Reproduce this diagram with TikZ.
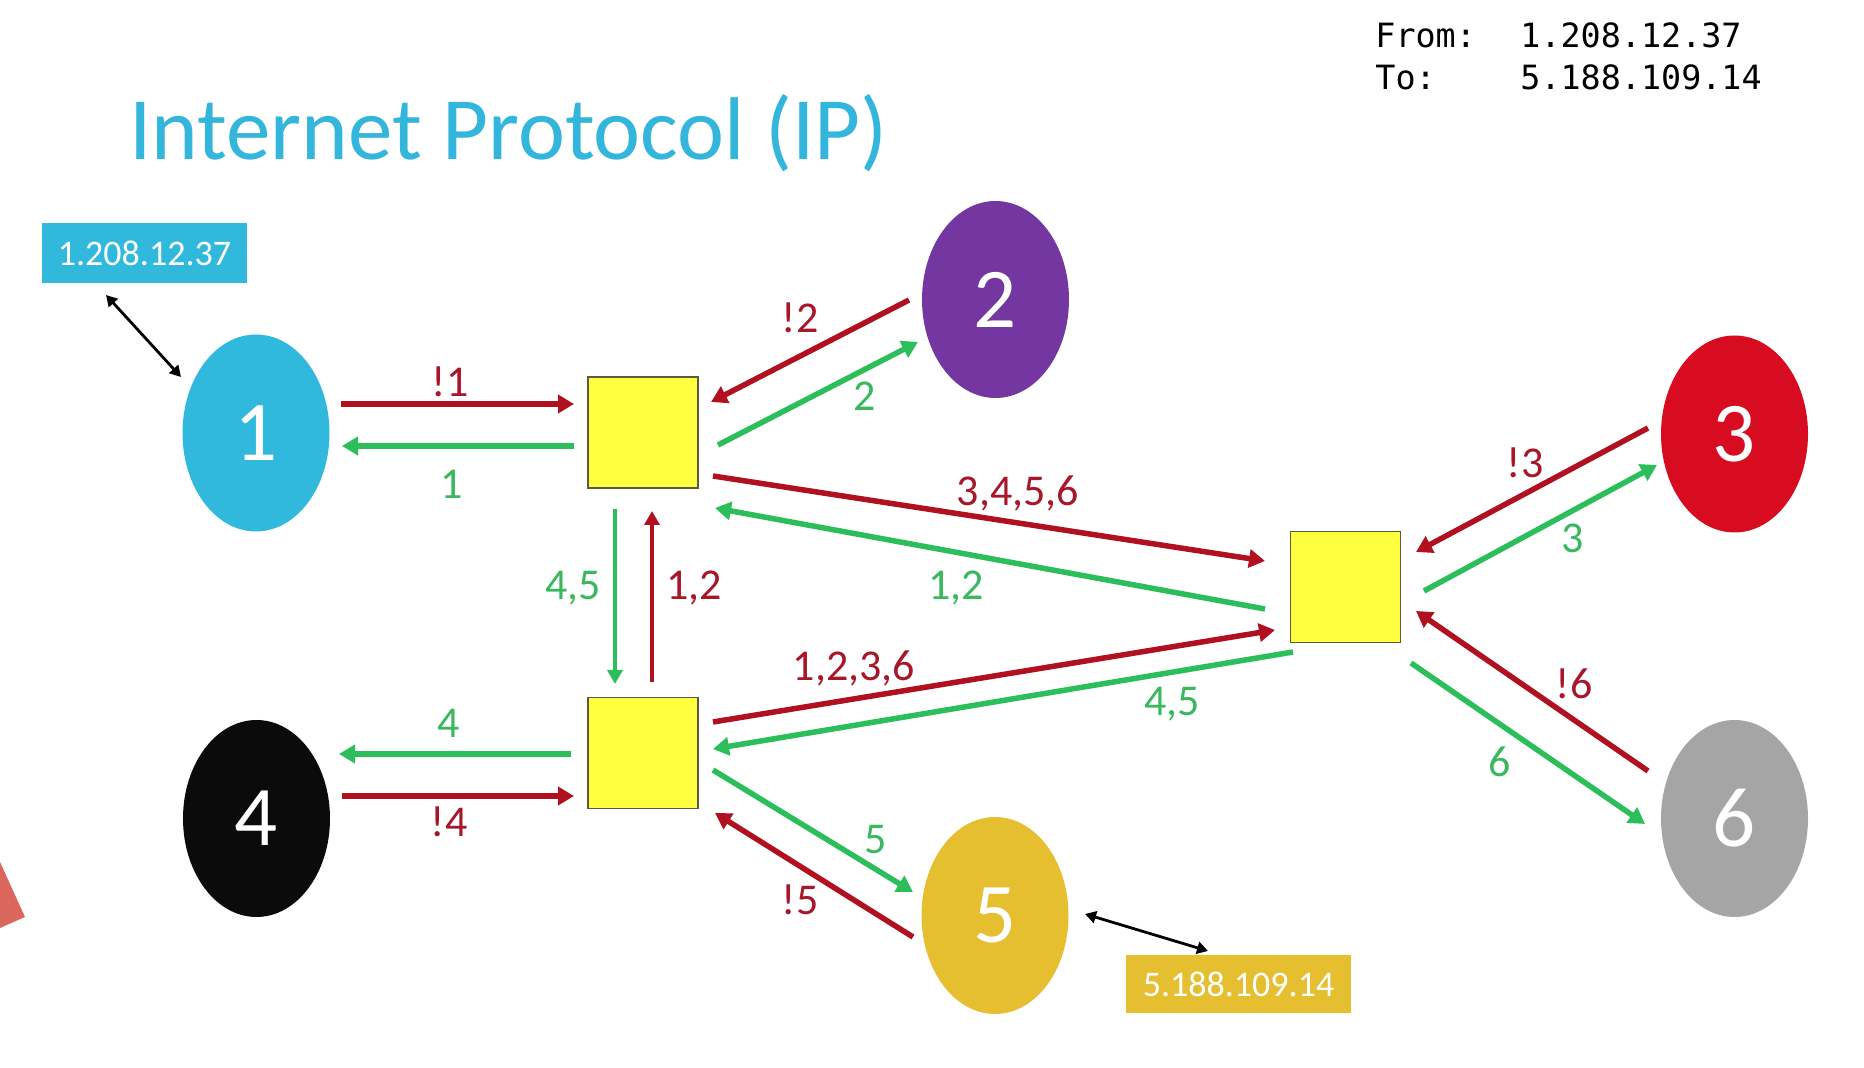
\documentclass[tikz,border=0pt]{standalone}
\usepackage{fontspec}
\setmainfont{Carlito}
\newfontfamily\codefont{DejaVu Sans Mono}
\usetikzlibrary{shapes.geometric,arrows.meta}

\definecolor{titlecyan}{HTML}{33B5DC}
\definecolor{hostA}{HTML}{31B9DD}
\definecolor{hostB}{HTML}{7436A0}
\definecolor{hostC}{HTML}{D80C20}
\definecolor{hostD}{HTML}{0B0B0B}
\definecolor{hostE}{HTML}{E5BF30}
\definecolor{hostF}{HTML}{A5A5A5}
\definecolor{routerfill}{HTML}{FFFF40}
\definecolor{routeredge}{HTML}{5A5A40}
\definecolor{pathred}{HTML}{B01020}
\definecolor{pathgreen}{HTML}{2CBE5A}
\definecolor{labelred}{HTML}{A8162A}
\definecolor{labelgreen}{HTML}{3BB85E}
\definecolor{salmon}{HTML}{D9675C}

\begin{document}
\begin{tikzpicture}[x=0.5pt,y=-0.5pt,
  host/.style={ellipse, minimum width=73.5pt, minimum height=98.5pt, inner sep=0pt,
    text=white, font=\fontsize{42.5}{42.5}\selectfont},
  router/.style={rectangle, fill=routerfill, draw=routeredge, line width=0.8pt,
    minimum width=55pt, minimum height=55.5pt, inner sep=0pt},
  addr/.style={rectangle, inner sep=0pt, text=white, font=\fontsize{18}{18}\selectfont},
  redpath/.style={draw=pathred, line width=2.75pt, -{Triangle[length=8pt,width=9pt]}},
  greenpath/.style={draw=pathgreen, line width=2.75pt, -{Triangle[length=8pt,width=9pt]}},
  redthin/.style={draw=pathred, line width=2pt, -{Triangle[length=7pt,width=7.5pt]}},
  greenthin/.style={draw=pathgreen, line width=2pt, -{Triangle[length=7pt,width=7.5pt]}},
  link/.style={draw=black, line width=1.4pt,
    {Triangle[length=5.5pt,width=6pt]}-{Triangle[length=5.5pt,width=6pt]}},
  lbl/.style={inner sep=0pt, text height=0.64em, text depth=0pt,
    font=\fontsize{22}{22}\selectfont},
  rl/.style={lbl, text=labelred},
  gl/.style={lbl, text=labelgreen},
  code/.style={anchor=base west, inner sep=0pt, font=\codefont\fontsize{16.7}{16.7}\selectfont}
]
\useasboundingbox (0,0) rectangle (1864,1068);
\fill[white] (0,0) rectangle (1864,1068);

% shape cut off at the left edge
\fill[salmon] (0,862) -- (25,917) -- (0,928) -- cycle;

% heading and packet header
\node[anchor=base west, inner sep=0pt, text=titlecyan,
  font=\fontsize{44.5}{44.5}\selectfont] (title) at (129,160) {Internet Protocol (IP)};
\node[code] (fromkey) at (1375,48) {From:};
\node[code] (fromval) at (1520,48) {1.208.12.37};
\node[code] (tokey) at (1375,90) {To:};
\node[code] (toval) at (1520,90) {5.188.109.14};

% hosts
\node[host, fill=hostA] (n1) at (256,433) {1};
\node[host, fill=hostB] (n2) at (995.5,299.5) {2};
\node[host, fill=hostC] (n3) at (1734.5,434) {3};
\node[host, fill=hostD] (n4) at (256.5,818.5) {4};
\node[host, fill=hostE] (n5) at (995,915.5) {5};
\node[host, fill=hostF] (n6) at (1734.5,818.5) {6};

% routers
\node[router] (rA) at (643,432.5) {};
\node[router] (rB) at (643,753) {};
\node[router] (rC) at (1345.5,587) {};

% addresses
\node[addr, fill=hostA, minimum width=102.5pt, minimum height=30pt] (addr1) at (144.5,253) {1.208.12.37};
\node[addr, fill=hostE, minimum width=112.5pt, minimum height=29pt] (addr5) at (1238.5,984) {5.188.109.14};
\draw[link] ([shift={(-38.5,42)}]addr1.center) -- ([shift={(-75,-56)}]n1.center);
\draw[link] ([shift={(90,-1.5)}]n5.center) -- ([shift={(-30.5,-33)}]addr5.center);

% host 1 <-> router A
\draw[redpath]   ([shift={(85,-29)}]n1.center) -- ([shift={(-69,-28.5)}]rA.center);
\draw[greenpath] ([shift={(-69,13.5)}]rA.center) -- ([shift={(86,13)}]n1.center);
\node[rl] (l1r) at (450,390) {!1};
\node[gl] (l1g) at (452,492) {1};

% host 2 <-> router A
\draw[redpath]   ([shift={(-86.5,0.5)}]n2.center) -- ([shift={(68,-30.5)}]rA.center);
\draw[greenpath] ([shift={(75,12.5)}]rA.center) -- ([shift={(-77.5,42.5)}]n2.center);
\node[rl] (l2r) at (800,326) {!2};
\node[gl] (l2g) at (865,404) {2};

% router A <-> router C
\draw[redpath]   ([shift={(70,43.5)}]rA.center) -- ([shift={(-80.5,-26)}]rC.center);
\draw[greenpath] ([shift={(-80.5,22)}]rC.center) -- ([shift={(72,75.5)}]rA.center);
\node[rl] (lACr) at (1018,499) {3,4,5,6};
\node[gl] (lACg) at (956,593) {1,2};

% router A <-> router B
\draw[greenthin] ([shift={(-28,76.5)}]rA.center) -- ([shift={(-28,-69)}]rB.center);
\draw[redthin]   ([shift={(9,-71)}]rB.center) -- ([shift={(9,78.5)}]rA.center);
\node[gl] (lABg) at (573,593) {4,5};
\node[rl] (lABr) at (694,593) {1,2};

% router B <-> router C
\draw[redpath]   ([shift={(70,-31)}]rB.center) -- ([shift={(-70.5,43)}]rC.center);
\draw[greenpath] ([shift={(-52.5,65)}]rC.center) -- ([shift={(70,-4)}]rB.center);
\node[rl] (lBCr) at (854,674) {1,2,3,6};
\node[gl] (lBCg) at (1172,709) {4,5};

% host 4 <-> router B
\draw[greenpath] ([shift={(-72,1)}]rB.center) -- ([shift={(82.5,-64.5)}]n4.center);
\draw[redpath]   ([shift={(85.5,-22.5)}]n4.center) -- ([shift={(-69,43)}]rB.center);
\node[gl] (l4g) at (449,731) {4};
\node[rl] (l4r) at (449,830) {!4};

% host 5 <-> router B
\draw[greenpath] ([shift={(70,17)}]rB.center) -- ([shift={(-82,-23.5)}]n5.center);
\draw[redpath]   ([shift={(-82,21.5)}]n5.center) -- ([shift={(72,60)}]rB.center);
\node[gl] (l5g) at (876,847) {5};
\node[rl] (l5r) at (800,908) {!5};

% host 3 <-> router C
\draw[redpath]   ([shift={(-86.5,-6)}]n3.center) -- ([shift={(70.5,-35)}]rC.center);
\draw[greenpath] ([shift={(78.5,4)}]rC.center) -- ([shift={(-77.5,31)}]n3.center);
\node[rl] (l3r) at (1525,471) {!3};
\node[gl] (l3g) at (1573,546) {3};

% host 6 <-> router C
\draw[redpath]   ([shift={(-86.5,-47.5)}]n6.center) -- ([shift={(70.5,24)}]rC.center);
\draw[greenpath] ([shift={(65.5,76)}]rC.center) -- ([shift={(-89.5,5.5)}]n6.center);
\node[rl] (l6r) at (1574,692) {!6};
\node[gl] (l6g) at (1500,770) {6};
\end{tikzpicture}
\end{document}
